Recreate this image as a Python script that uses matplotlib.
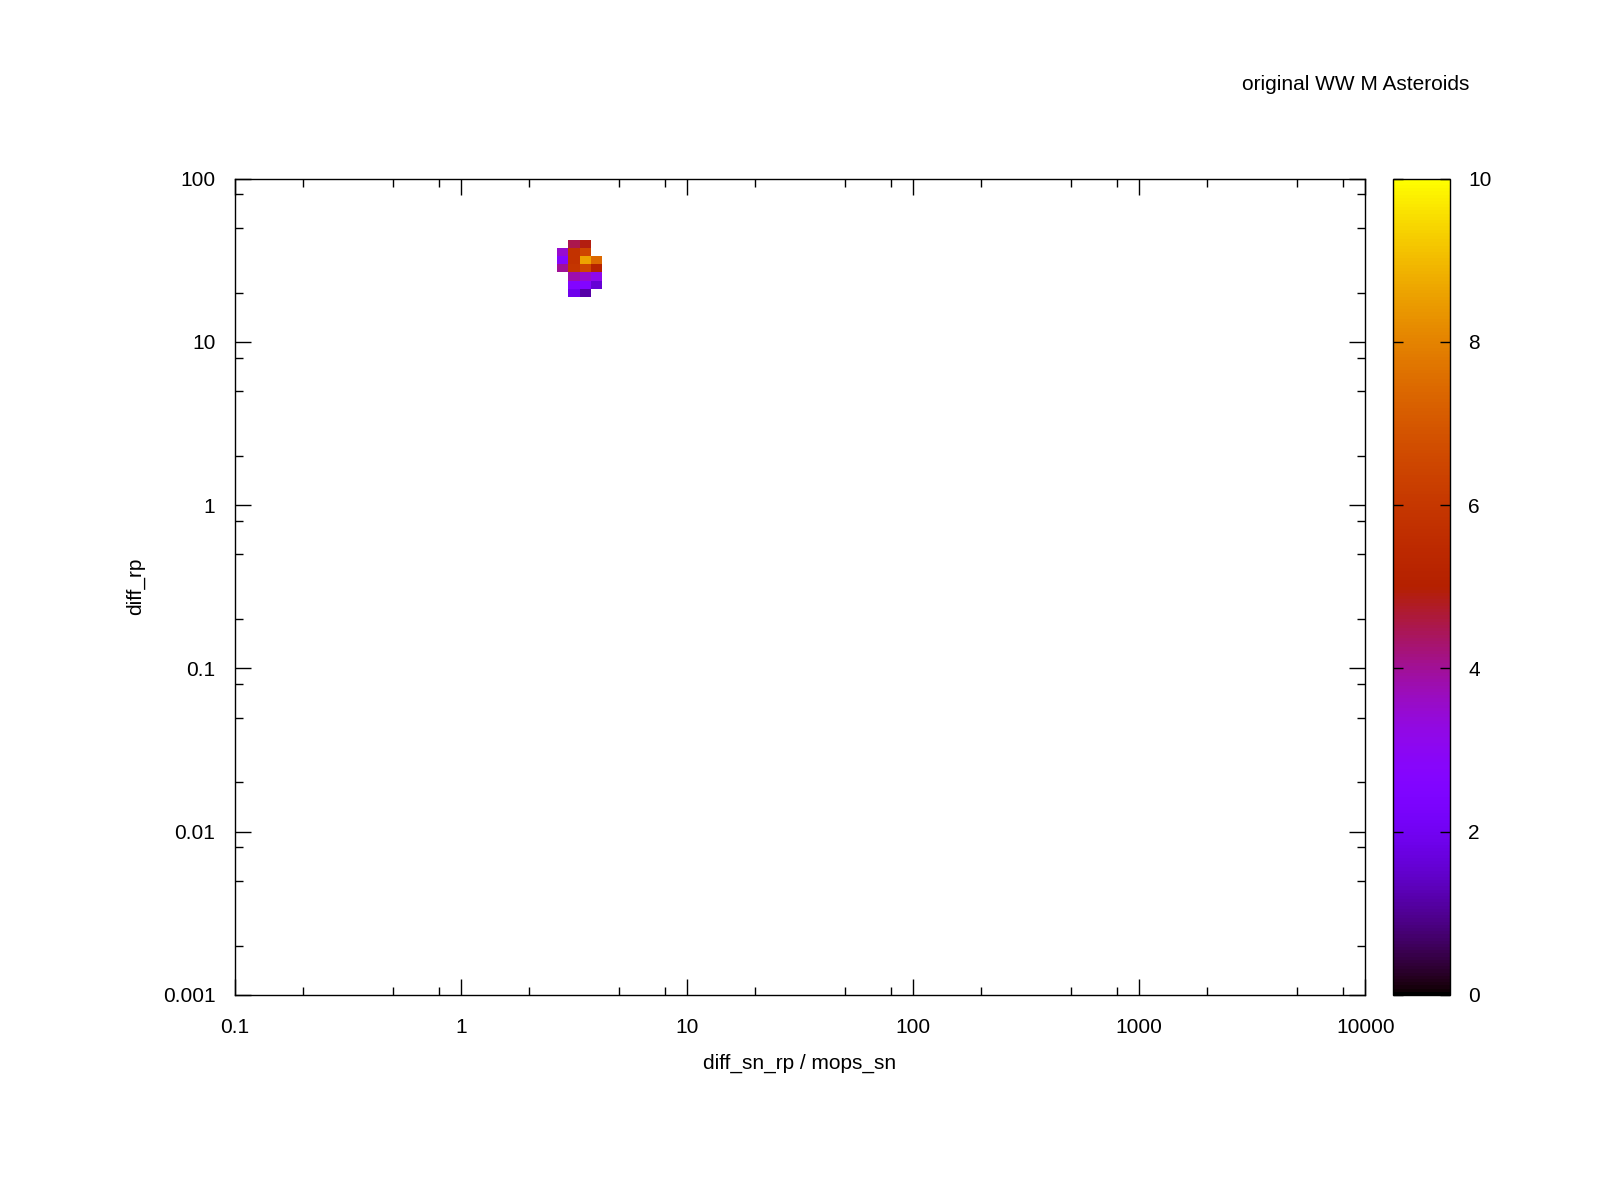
import numpy as np
import matplotlib
matplotlib.use("Agg")
import matplotlib.pyplot as plt
from matplotlib.ticker import LogLocator, NullFormatter

plt.rcParams['font.family'] = ['Liberation Sans', 'DejaVu Sans']
plt.rcParams['font.size'] = 15

# ---- data ----
title = "original WW M Asteroids"
xlabel = "diff_sn_rp / mops_sn"
ylabel = "diff_rp"
# log10 bin centres
log_x_centers = [0.45, 0.50, 0.55, 0.60]
log_y_centers = [1.30, 1.35, 1.40, 1.45, 1.50, 1.55, 1.60]
bin_width = 0.05
nan = np.nan
# rows: bottom (1.30) to top (1.60); columns: x centres
counts = [
    [nan, 1.9, 1.15, nan],
    [nan, 2.6, 2.6, 1.6],
    [nan, 3.8, 3.5, 3.1],
    [4.0, 5.9, 6.5, 5.1],
    [2.7, 5.8, 8.6, 7.4],
    [3.5, 5.8, 6.5, nan],
    [nan, 4.5, 4.9, nan],
]
x_ticks = [0.1, 1, 10, 100, 1000, 10000]
x_tick_labels = ["0.1", "1", "10", "100", "1000", "10000"]
y_ticks = [0.001, 0.01, 0.1, 1, 10, 100]
y_tick_labels = ["0.001", "0.01", "0.1", "1", "10", "100"]
cb_ticks = [0, 2, 4, 6, 8, 10]
cb_range = (0, 10)

# ---- figure ----
fig = plt.figure(figsize=(16, 12), dpi=100)
ax = fig.add_axes([0.1467, 0.1709, 0.7066, 0.6803])
cax = fig.add_axes([0.8706, 0.1709, 0.0357, 0.6803])

lx = np.array(log_x_centers)
ly = np.array(log_y_centers)
x_edges = 10 ** np.append(lx - bin_width / 2, lx[-1] + bin_width / 2)
y_edges = 10 ** np.append(ly - bin_width / 2, ly[-1] + bin_width / 2)
Z = np.ma.masked_invalid(np.array(counts, dtype=float))
mesh = ax.pcolormesh(x_edges, y_edges, Z, cmap='gnuplot',
                     vmin=cb_range[0], vmax=cb_range[1], shading='flat')

ax.set_xscale('log')
ax.set_yscale('log')
ax.set_xlim(x_ticks[0], x_ticks[-1])
ax.set_ylim(y_ticks[0], y_ticks[-1])
ax.set_xticks(x_ticks)
ax.set_xticklabels(x_tick_labels)
ax.set_yticks(y_ticks)
ax.set_yticklabels(y_tick_labels)
ax.xaxis.set_minor_locator(LogLocator(base=10, subs=[2, 5, 8]))
ax.yaxis.set_minor_locator(LogLocator(base=10, subs=[2, 5, 8]))
ax.xaxis.set_minor_formatter(NullFormatter())
ax.yaxis.set_minor_formatter(NullFormatter())
ax.tick_params(which='both', direction='in', top=True, right=True, width=1.0)
ax.tick_params(which='major', length=11.5)
ax.tick_params(which='minor', length=5.8)
ax.tick_params(axis='x', which='major', pad=16.5)
ax.tick_params(axis='y', which='major', pad=14)
for s in ax.spines.values():
    s.set_linewidth(1.0)

ax.set_xlabel(xlabel, va='center')
ax.xaxis.set_label_coords(0.5, -0.0835)
ax.set_ylabel(ylabel, va='center')
ax.yaxis.set_label_coords(-0.0875, 0.5)

cb = fig.colorbar(mesh, cax=cax)
cb.set_ticks(cb_ticks)
cb.set_ticklabels([str(t) for t in cb_ticks])
cb.outline.set_linewidth(1.0)
cax.tick_params(direction='in', left=True, right=True, length=7, width=1.0, pad=13)
cax.minorticks_off()

fig.text(1469 / 1600, 1 - 85.0 / 1200, title, ha='right', va='center')

fig.savefig("out.png", dpi=100)
